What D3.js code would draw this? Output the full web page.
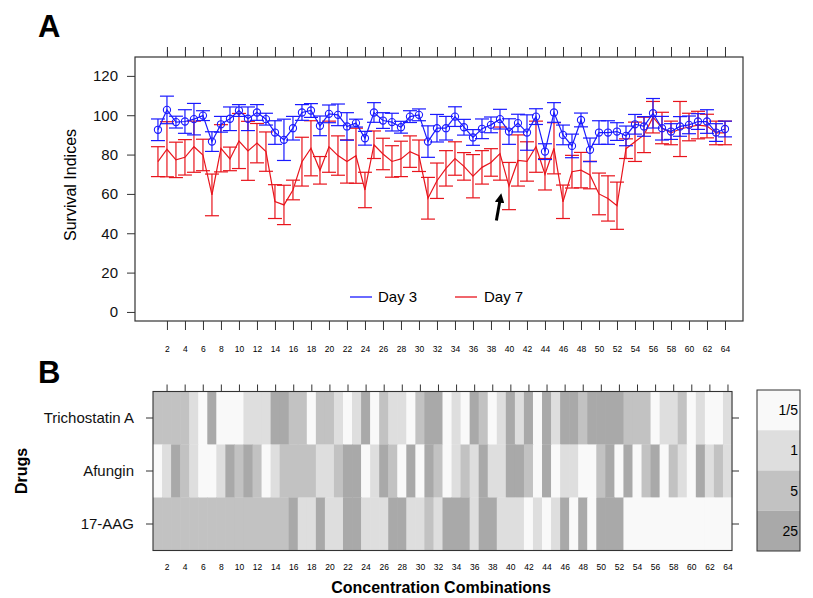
<!DOCTYPE html>
<html><head><meta charset="utf-8">
<script src="https://cdn.jsdelivr.net/npm/d3@7"></script>
<style>body{margin:0;background:#fff}svg{display:block}text{font-family:"Liberation Sans",Arial,sans-serif}</style>
</head><body>
<svg id="c" width="813" height="598"></svg>
<script>
// ---- data ----
const combos = d3.range(1, 65);
const day3 = [92.6,102.7,96.5,96.8,98,99.8,86.6,95.4,98.2,102.4,98.2,101.4,98,91.2,87.5,93.4,101.4,102.4,94.6,100.7,100.2,94.3,96,88.3,101.4,97.3,96.5,93.9,99.3,100.2,86.6,93.4,93.4,99.3,93.9,88.7,93.1,95.1,98,91.7,96,91.2,99.3,81.5,101.4,90,84.4,97.6,82.4,91.2,91.2,91.7,89.5,95.4,94.3,101,93.4,91.7,94.3,95.1,96.8,96.8,91.2,93];
const day3Err = [5.5,7,3,6,8,2.5,5,4,6,3,6,4,3,6,10.5,6,4,3.5,5,4.5,5.5,7,2,3.5,5,4,4.5,3,3,3,8,7,6,5,4,4,5,4,5,6.5,4.5,9,4,4,5,5,6,3.5,6,6,6,4.5,5,5,5,7.5,6,4,5,4.5,4,6,4.5,4];
const day7 = [76.4,82.7,77.3,78.6,84,79.8,59.5,83.2,77.8,86.9,81.9,85.8,81.5,56.1,54.4,62,76.4,83.2,72,84,79.5,76.5,79.4,62,85,80.3,76.5,77.8,81.5,79.4,57.8,66.7,73,78,74,69,73.5,76,80.5,64,77,76.5,84,70,83.2,56,71.3,72.1,69.6,60,57.7,54,83,86.5,90,99,93.5,91,93,94,95,94.5,91,91];
const day7Err = [7.6,14,9,9,13,8,10.6,12,6,14,15,10,10,8.6,10,5,12.4,14,7,13,10,11,14,9,7,8,8,9,8,8,10.6,9,9,8.5,7,11,8.5,7,13.5,12,13,10,13,8,13,8.5,8.3,9,7,10.6,11.5,12,5,10,9,8,8,6,14,7,7,6,6,6];
const yTicks = [0,20,40,60,80,100,120];
const xTicks = d3.range(2, 65, 2);
const drugs = ["Trichostatin A","Afungin","17-AAG"];
const levels = ["1/5","1","5","25"];
const levelColors = ["#f9f9f9","#dedede","#c2c2c2","#a9a9a9"];
// dose level index per combination (0=1/5, 1=1, 2=5, 3=25)
const tsa = [2,2,2,2,1,0,3,0,0,0,1,1,1,3,3,2,2,0,2,2,1,0,1,3,0,2,1,1,0,2,3,3,0,1,0,3,2,0,1,3,1,3,0,3,1,3,3,2,3,3,3,3,2,2,2,0,1,1,2,0,1,0,0,1];
const afg = [0,1,3,2,1,0,0,1,3,2,3,2,0,1,2,2,2,2,1,1,2,3,3,0,1,3,2,0,3,0,3,2,0,1,2,1,3,1,1,3,3,2,0,3,0,1,1,0,0,2,3,0,3,0,2,3,0,2,1,0,3,1,2,1];
const aag = [2,2,2,2,2,2,2,2,2,2,2,2,2,2,2,3,1,1,3,1,1,3,3,1,1,1,3,3,1,1,2,1,3,3,3,1,3,3,1,1,1,0,1,0,1,3,0,3,0,3,3,3,0,0,0,0,0,0,0,0,0,0,0,0];

// ---- drawing ----
const svg = d3.select("#c");
const frame = "#333";

// Panel A
const A = {l:135, r:743, t:57, b:321};
const x = d3.scaleLinear().domain([-1.55, 66]).range([A.l, A.r]);
const y = d3.scaleLinear().domain([-4.6, 129.6]).range([A.b, A.t]);

svg.append("text").attr("x",38).attr("y",37).attr("font-size",31).attr("font-weight","bold").text("A");
svg.append("text").attr("x",38).attr("y",383).attr("font-size",31).attr("font-weight","bold").text("B");

const gA = svg.append("g");
gA.append("rect").attr("x",A.l).attr("y",A.t).attr("width",A.r-A.l).attr("height",A.b-A.t)
  .attr("fill","none").attr("stroke",frame).attr("stroke-width",1.2);

// y axis
const yAx = gA.append("g").attr("transform",`translate(${A.l},0)`)
  .call(d3.axisLeft(y).tickValues(yTicks).tickSize(8).tickPadding(9));
yAx.select(".domain").remove();
yAx.selectAll("line").attr("stroke",frame);
yAx.selectAll("text").attr("font-size",15).attr("fill","#111");

// x ticks bottom (with labels) and top (no labels)
const xb = gA.append("g").attr("transform",`translate(0,${A.b})`)
  .call(d3.axisBottom(x).tickValues(xTicks).tickSize(9).tickPadding(16));
xb.select(".domain").remove();
xb.selectAll("line").attr("stroke",frame);
xb.selectAll("text").attr("font-size",8.5).attr("fill","#000");
const xt = gA.append("g").attr("transform",`translate(0,${A.t})`)
  .call(d3.axisTop(x).tickValues(xTicks).tickSize(10).tickFormat(""));
xt.select(".domain").remove();
xt.selectAll("line").attr("stroke",frame);

svg.append("text").attr("transform","translate(76,185) rotate(-90)").attr("text-anchor","middle")
  .attr("font-size",16).text("Survival Indices");

function series(vals, errs, color, circles){
  const g = gA.append("g");
  const cap = 7;
  combos.forEach((c,i)=>{
    const cx = x(c), y1 = y(vals[i]+errs[i]), y0 = y(vals[i]-errs[i]);
    g.append("line").attr("x1",cx).attr("x2",cx).attr("y1",y1).attr("y2",y0).attr("stroke",color).attr("stroke-width",1.2);
    g.append("line").attr("x1",cx-cap).attr("x2",cx+cap).attr("y1",y1).attr("y2",y1).attr("stroke",color).attr("stroke-width",1.2);
    g.append("line").attr("x1",cx-cap).attr("x2",cx+cap).attr("y1",y0).attr("y2",y0).attr("stroke",color).attr("stroke-width",1.2);
  });
  const line = d3.line().x((d,i)=>x(combos[i])).y(d=>y(d));
  g.append("path").attr("d",line(vals)).attr("fill","none").attr("stroke",color).attr("stroke-width",1.2);
  if(circles){
    g.selectAll("circle").data(vals).join("circle").attr("cx",(d,i)=>x(combos[i])).attr("cy",d=>y(d))
      .attr("r",3.6).attr("fill","none").attr("stroke",color).attr("stroke-width",1.1);
  }
}
series(day7, day7Err, "#e8141c", false);
series(day3, day3Err, "#1a1aff", true);

// legend
const lg = gA.append("g");
lg.append("line").attr("x1",350).attr("x2",372).attr("y1",297).attr("y2",297).attr("stroke","#1a1aff").attr("stroke-width",1.3);
lg.append("text").attr("x",378).attr("y",302).attr("font-size",15).text("Day 3");
lg.append("line").attr("x1",455).attr("x2",477).attr("y1",297).attr("y2",297).attr("stroke","#e8141c").attr("stroke-width",1.3);
lg.append("text").attr("x",484).attr("y",302).attr("font-size",15).text("Day 7");

// arrow
svg.append("defs").append("marker").attr("id","ah").attr("viewBox","0 0 10 10").attr("refX",5).attr("refY",5)
  .attr("markerWidth",3.2).attr("markerHeight",3.2).attr("orient","auto")
  .append("path").attr("d","M0,0 L10,5 L0,10 z").attr("fill","#000");
svg.append("line").attr("x1",x(38.6)).attr("y1",y(46.5)).attr("x2",x(39.05)).attr("y2",y(58)).attr("stroke","#000")
  .attr("stroke-width",3).attr("marker-end","url(#ah)");

// Panel B heatmap
const B = {l:153, r:732, t:391.5, b:550.5};
const xb2 = d3.scaleBand().domain(combos).range([B.l, B.r]);
const yb = d3.scaleBand().domain(drugs).range([B.t, B.b]);
const gB = svg.append("g");
const rows = [tsa, afg, aag];
drugs.forEach((d,r)=>{
  gB.selectAll(null).data(rows[r]).join("rect")
    .attr("x",(v,i)=>xb2(combos[i])).attr("y",yb(d))
    .attr("width",xb2.bandwidth()+0.6).attr("height",yb.bandwidth()+0.3)
    .attr("fill",v=>levelColors[v]);
});
gB.append("rect").attr("x",B.l).attr("y",B.t).attr("width",B.r-B.l).attr("height",B.b-B.t)
  .attr("fill","none").attr("stroke",frame).attr("stroke-width",1.1);

const xc = d=>xb2(d)+xb2.bandwidth()/2;
const xs = d3.scaleLinear().domain([1,64]).range([xc(1), xc(64)]);
const bt = gB.append("g").attr("transform",`translate(0,${B.t})`)
  .call(d3.axisTop(xs).tickValues(xTicks).tickSize(7).tickFormat(""));
bt.select(".domain").remove(); bt.selectAll("line").attr("stroke",frame);
const bb = gB.append("g").attr("transform",`translate(0,${B.b})`)
  .call(d3.axisBottom(xs).tickValues(xTicks).tickSize(0).tickPadding(13));
bb.select(".domain").remove();
bb.selectAll("text").attr("font-size",8.5).attr("fill","#000");

const yl = gB.append("g").attr("transform",`translate(${B.l},0)`)
  .call(d3.axisLeft(yb).tickSize(7).tickPadding(12));
yl.select(".domain").remove(); yl.selectAll("line").attr("stroke",frame);
yl.selectAll("text").attr("font-size",15).attr("fill","#111");
const yr = gB.append("g").attr("transform",`translate(${B.r},0)`)
  .call(d3.axisRight(yb).tickSize(7).tickFormat(""));
yr.select(".domain").remove(); yr.selectAll("line").attr("stroke",frame);

svg.append("text").attr("transform","translate(27,471) rotate(-90)").attr("text-anchor","middle")
  .attr("font-size",16).attr("font-weight","bold").text("Drugs");
svg.append("text").attr("x",441).attr("y",593).attr("text-anchor","middle")
  .attr("font-size",16).attr("font-weight","bold").text("Concentration Combinations");

// colour key
const K = {l:757, r:800, t:390, b:551};
const ky = d3.scaleBand().domain(levels).range([K.t, K.b]);
const gK = svg.append("g");
gK.selectAll("rect").data(levels).join("rect").attr("x",K.l).attr("y",d=>ky(d))
  .attr("width",K.r-K.l).attr("height",ky.bandwidth()).attr("fill",(d,i)=>levelColors[i]);
gK.append("rect").attr("x",K.l).attr("y",K.t).attr("width",K.r-K.l).attr("height",K.b-K.t)
  .attr("fill","none").attr("stroke",frame).attr("stroke-width",1);
gK.selectAll(".kl").data(levels).join("text").attr("class","kl")
  .attr("x",K.r-2).attr("y",d=>ky(d)+ky.bandwidth()/2+5).attr("text-anchor","end")
  .attr("font-size",14).text(d=>d);
</script>
</body></html>
